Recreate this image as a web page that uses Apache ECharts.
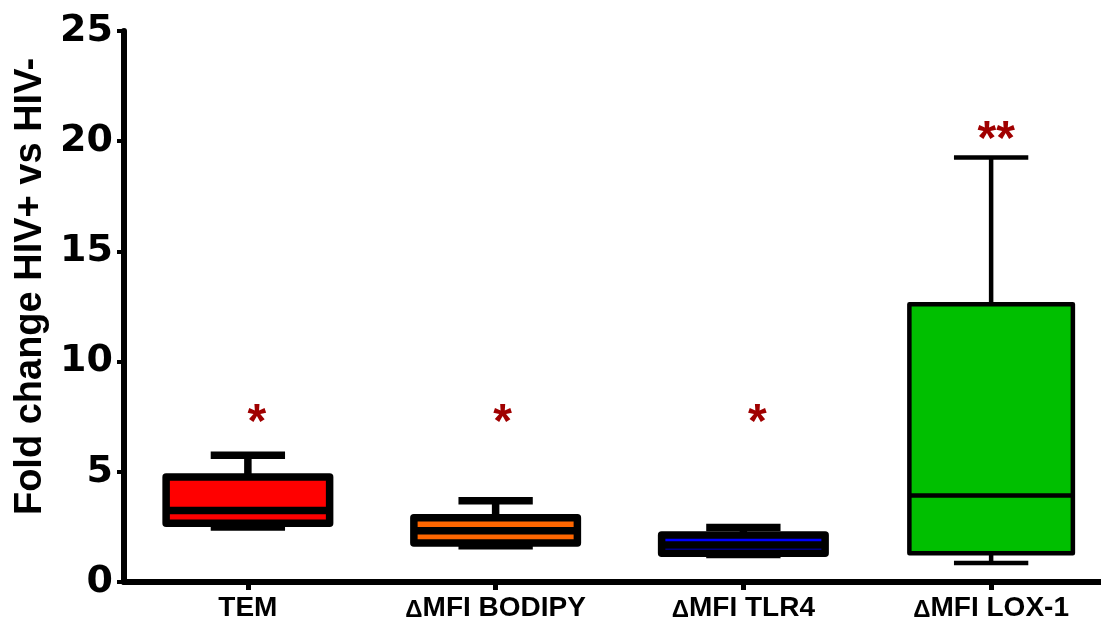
<!DOCTYPE html>
<html><head><meta charset="utf-8">
<script src="https://cdn.jsdelivr.net/npm/echarts@6/dist/echarts.min.js"></script>
<style>html,body{margin:0;padding:0;background:#fff}#c{width:1101px;height:622px}</style>
</head><body><div id="c"></div>
<script>
// ---- data ----
const categories = ['TEM', 'ΔMFI BODIPY', 'ΔMFI TLR4', 'ΔMFI LOX-1'];
const whiskerMin = [2.5, 1.65, 1.25, 0.86];
const q1 = [2.67, 1.77, 1.31, 1.31];
const median = [3.24, 2.33, 1.68, 3.92];
const q3 = [4.76, 2.92, 2.13, 12.6];
const whiskerMax = [5.75, 3.69, 2.47, 19.26];
const sigLabels = ['*', '*', '*', '**'];
const sigY = [7.66, 7.66, 7.66, 20.5];
const yTicks = [0, 5, 10, 15, 20, 25];

// ---- styles ----
const fillColors = ['#FF0000', '#FF6600', '#0000FF', '#00BF00'];
const lineWidths = [7.5, 7.5, 7.5, 4.5];
const sigDx = [9, 7, 14, 5];

const boxData = categories.map((c, i) => [i, whiskerMin[i], q1[i], median[i], q3[i], whiskerMax[i]]);
const sigData = categories.map((c, i) => [i, sigY[i]]);

const chart = echarts.init(document.getElementById('c'));
chart.setOption({
  animation: false,
  backgroundColor: '#fff',
  grid: { left: 124, width: 991, top: 31, height: 551, containLabel: false, outerBoundsMode: 'none' },
  xAxis: {
    type: 'category',
    data: categories,
    boundaryGap: true,
    axisLine: { lineStyle: { color: '#000', width: 6 } },
    axisTick: { show: true, alignWithLabel: true, interval: 0, length: 8, lineStyle: { color: '#000', width: 5 } },
    axisLabel: {
      interval: 0,
      margin: 12,
      color: '#000',
      fontFamily: 'Liberation Sans',
      fontWeight: 'bold',
      fontSize: 28,
      formatter: v => v.startsWith('Δ') ? '{d|Δ}{t|' + v.slice(1) + '}' : '{t|' + v + '}',
      rich: {
        d: { fontFamily: 'Liberation Sans', fontSize: 24, fontWeight: 'bold', color: '#000', verticalAlign: 'bottom' },
        t: { fontFamily: 'Liberation Sans', fontSize: 28, fontWeight: 'bold', color: '#000' }
      }
    },
    splitLine: { show: false }
  },
  yAxis: {
    type: 'value',
    min: yTicks[0],
    max: yTicks[yTicks.length - 1],
    interval: 5,
    name: 'Fold change HIV+ vs HIV-',
    nameLocation: 'middle',
    nameGap: 73,
    nameTextStyle: {
      color: '#000', fontFamily: 'Liberation Sans', fontWeight: 'bold', fontSize: 38,
      padding: [0, 0, 0, 40]
    },
    axisLine: { show: true, lineStyle: { color: '#000', width: 6 } },
    axisTick: { show: true, length: 7, lineStyle: { color: '#000', width: 4 } },
    axisLabel: {
      margin: 11, color: '#000', fontFamily: 'DejaVu Sans', fontWeight: 'bold', fontSize: 38
    },
    splitLine: { show: false }
  },
  series: [{
    type: 'custom',
    clip: false,
    data: boxData,
    encode: { x: 0, y: [1, 2, 3, 4, 5] },
    renderItem: function (params, api) {
      const i = api.value(0);
      const band = api.size([1, 0])[0];
      const bw = band * 0.66, cw = band * 0.30;
      const pMin = api.coord([i, api.value(1)]);
      const pQ1 = api.coord([i, api.value(2)]);
      const pMed = api.coord([i, api.value(3)]);
      const pQ3 = api.coord([i, api.value(4)]);
      const pMax = api.coord([i, api.value(5)]);
      const x = pQ1[0];
      const lw = lineWidths[i];
      const ls = { stroke: '#000', lineWidth: lw, lineCap: 'butt' };
      return {
        type: 'group',
        children: [
          { type: 'line', shape: { x1: x, y1: pMax[1], x2: x, y2: pQ3[1] }, style: ls },
          { type: 'line', shape: { x1: x, y1: pQ1[1], x2: x, y2: pMin[1] }, style: ls },
          { type: 'line', shape: { x1: x - cw / 2, y1: pMax[1], x2: x + cw / 2, y2: pMax[1] }, style: ls },
          { type: 'line', shape: { x1: x - cw / 2, y1: pMin[1], x2: x + cw / 2, y2: pMin[1] }, style: ls },
          { type: 'rect', shape: { x: x - bw / 2, y: pQ3[1], width: bw, height: pQ1[1] - pQ3[1] },
            style: { fill: fillColors[i], stroke: '#000', lineWidth: lw, lineJoin: 'round' } },
          { type: 'line', shape: { x1: x - bw / 2, y1: pMed[1], x2: x + bw / 2, y2: pMed[1] }, style: ls }
        ]
      };
    }
  }, {
    type: 'custom',
    clip: false,
    data: sigData,
    encode: { x: 0, y: 1 },
    renderItem: function (params, api) {
      const i = api.value(0);
      const p = api.coord([i, api.value(1)]);
      return {
        type: 'text',
        style: {
          text: sigLabels[i], x: p[0] + sigDx[i], y: p[1] + 11,
          fill: '#A00000', font: 'bold 48px "Liberation Sans"',
          align: 'center', verticalAlign: 'middle', textAlign: 'center', textVerticalAlign: 'middle'
        }
      };
    }
  }]
});
</script></body></html>
